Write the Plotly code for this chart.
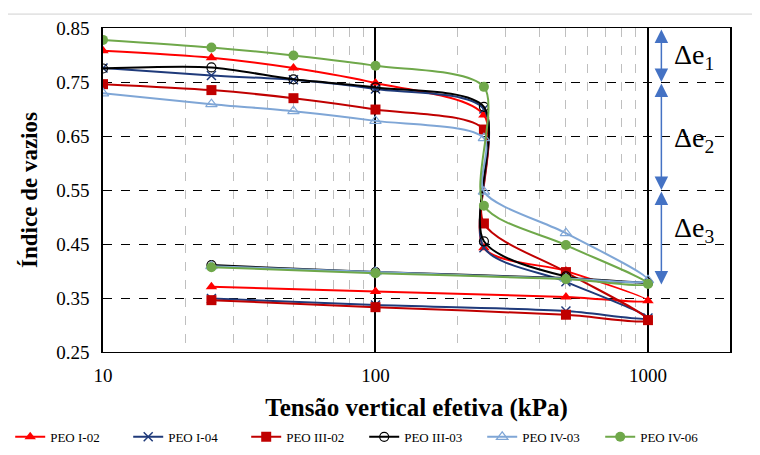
import math
import plotly.graph_objects as go

# Stress steps: loading 10 -> 1000 (with collapse at 250 kPa), then unloading
tensao = [10, 25, 50, 100, 250, 250, 500, 1000, 500, 100, 25]

e_I02   = [0.808, 0.795, 0.776, 0.748, 0.689, 0.443, 0.400, 0.345, 0.352, 0.362, 0.371]
e_I04   = [0.776, 0.762, 0.754, 0.737, 0.700, 0.443, 0.380, 0.313, 0.326, 0.337, 0.349]
e_III02 = [0.746, 0.735, 0.720, 0.699, 0.662, 0.488, 0.398, 0.309, 0.319, 0.333, 0.346]
e_III03 = [0.775, 0.777, 0.755, 0.740, 0.704, 0.455, 0.390, 0.378, 0.387, 0.398, 0.411]
e_IV03  = [0.729, 0.709, 0.696, 0.678, 0.646, 0.547, 0.470, 0.383, 0.386, 0.398, 0.409]
e_IV06  = [0.828, 0.814, 0.799, 0.780, 0.741, 0.521, 0.448, 0.376, 0.385, 0.396, 0.407]

series_names = ["PEO I-02", "PEO I-04", "PEO III-02", "PEO III-03", "PEO IV-03", "PEO IV-06"]
series_vals = [e_I02, e_I04, e_III02, e_III03, e_IV03, e_IV06]
colors = ["#FF0000", "#1F3A7A", "#C00000", "#000000", "#7FA6D6", "#6FA84A"]
markers = [
    dict(symbol="triangle-up", size=10, color="#FF0000"),
    dict(symbol="x-thin", size=9, line=dict(color="#1F3A7A", width=1.5)),
    dict(symbol="square", size=10, color="#C00000"),
    dict(symbol="circle-open", size=9, color="#000000", line=dict(width=1.2)),
    dict(symbol="triangle-up-open", size=10, color="#7FA6D6", line=dict(width=1.2)),
    dict(symbol="circle", size=10, color="#6FA84A"),
]

# Delta-e brackets (kPa position, e from, e to, label)
delta_x = 1120
delta_bounds = [(0.85, 0.75), (0.75, 0.55), (0.55, 0.375)]
delta_labels = ["Δe<sub>1</sub>", "Δe<sub>2</sub>", "Δe<sub>3</sub>"]
delta_label_y = [0.797, 0.643, 0.476]

serif = "Liberation Serif"

fig = go.Figure()
for name, vals, col, mk in zip(series_names, series_vals, colors, markers):
    fig.add_trace(go.Scatter(
        x=tensao, y=vals, name=name, mode="lines+markers",
        line=dict(color=col, width=2, shape="spline", smoothing=0.8),
        marker=mk,
    ))

annotations = []
for (y0, y1) in delta_bounds:
    annotations.append(dict(
        x=math.log10(delta_x), y=y1, ax=math.log10(delta_x), ay=y0,
        xref="x", yref="y", axref="x", ayref="y",
        showarrow=True, arrowhead=2, arrowside="end+start", arrowsize=1.8,
        arrowwidth=1.5, arrowcolor="#4472C4", text="",
    ))
for lab, ly in zip(delta_labels, delta_label_y):
    annotations.append(dict(
        x=math.log10(delta_x) + 0.04, y=ly, xref="x", yref="y",
        text=lab, showarrow=False, xanchor="left",
        font=dict(family=serif, size=28, color="black"),
    ))

fig.update_layout(
    width=760, height=455,
    margin=dict(l=95, r=38, t=20, b=111, autoexpand=False),
    paper_bgcolor="white", plot_bgcolor="white",
    font=dict(family=serif, size=16, color="black"),
    showlegend=True,
    legend=dict(orientation="h", x=-0.148, xanchor="left", y=-0.262, yanchor="middle",
                font=dict(family=serif, size=13, color="black"),
                entrywidth=73, entrywidthmode="pixels", tracegroupgap=0,
                bgcolor="rgba(0,0,0,0)"),
    annotations=annotations,
    shapes=[dict(type="rect", xref="paper", yref="paper",
                 x0=-0.155, x1=1.041, y0=-0.32, y1=1.043,
                 line=dict(color="#D0D0D0", width=1), layer="below")],
)

fig.update_xaxes(
    type="log", range=[1, math.log10(2000)],
    tickvals=[10, 100, 1000], ticktext=["10", "100", "1000"],
    ticks="", showline=True, linecolor="black", linewidth=1, mirror=True,
    showgrid=True, gridcolor="black", gridwidth=2,
    minor=dict(tickvals=[20, 30, 40, 50, 60, 70, 80, 90, 200, 300, 400, 500, 600, 700, 800, 900],
               showgrid=True, gridcolor="#BFBFBF", griddash="dash", gridwidth=1, ticks=""),
    title=dict(text="<b>Tensão vertical efetiva (kPa)</b>", font=dict(family=serif, size=25), standoff=13),
    tickfont=dict(family=serif, size=19), ticklabelstandoff=6,
    zeroline=False, automargin=False,
)
fig.update_yaxes(
    range=[0.25, 0.85], tick0=0.25, dtick=0.1, tickformat=".2f",
    ticks="", showline=True, linecolor="black", linewidth=1.5, mirror=True,
    showgrid=True, gridcolor="black", gridwidth=1, griddash="dash",
    title=dict(text="<b>Índice de vazios</b>", font=dict(family=serif, size=23), standoff=12),
    tickfont=dict(family=serif, size=19), ticklabelstandoff=8,
    zeroline=False, automargin=False,
)

fig.write_html("out.html")
